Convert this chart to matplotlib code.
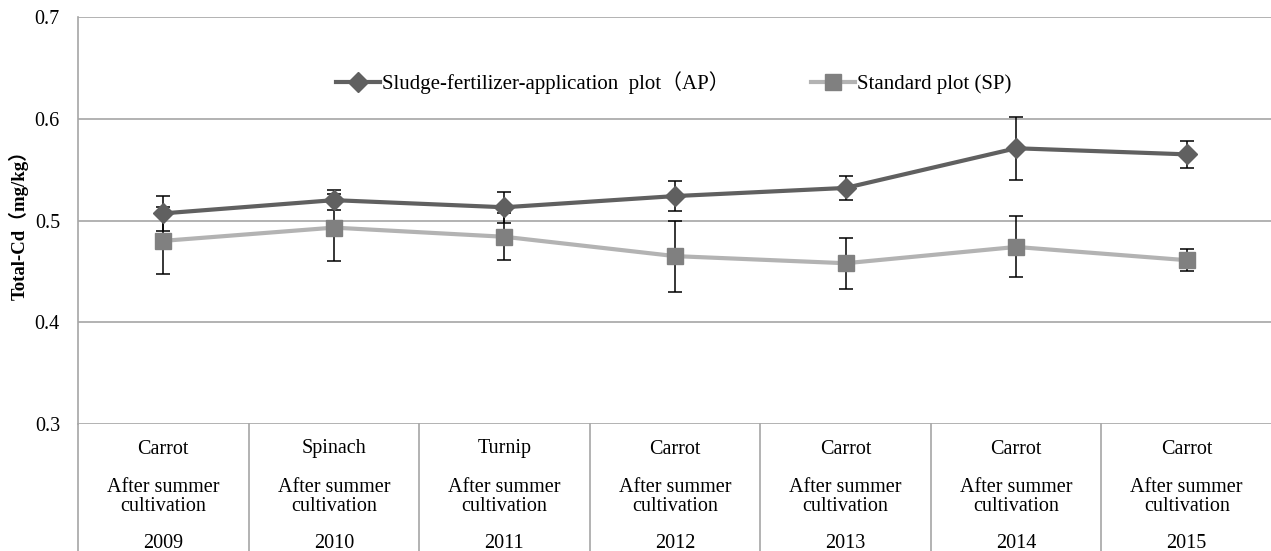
import matplotlib
matplotlib.use("Agg")
import matplotlib.pyplot as plt
import matplotlib.transforms as mtransforms
import numpy as np

crops = ["Carrot", "Spinach", "Turnip", "Carrot", "Carrot", "Carrot", "Carrot"]
season = ["After summer\ncultivation"] * 7
years = ["2009", "2010", "2011", "2012", "2013", "2014", "2015"]

ap_mean = [0.507, 0.520, 0.513, 0.524, 0.532, 0.571, 0.565]
ap_err = [0.017, 0.010, 0.015, 0.015, 0.012, 0.031, 0.013]
sp_mean = [0.480, 0.493, 0.484, 0.465, 0.458, 0.474, 0.461]
sp_err = [0.033, 0.033, 0.023, 0.035, 0.025, 0.030, 0.011]

yticks = [0.3, 0.4, 0.5, 0.6, 0.7]

fonts = ['Liberation Serif', 'Noto Sans CJK SC', 'DejaVu Sans']
plt.rcParams['font.family'] = fonts

W, H = 1271, 551
fig = plt.figure(figsize=(W / 100, H / 100), dpi=100)
left, right, top, bottom = 78, 1272, 17, 424
ax = fig.add_axes([left / W, 1 - bottom / H, (right - left) / W, (bottom - top) / H])

x = np.arange(len(years)) + 0.5

grid_c = '#a6a6a6'
for yv in yticks:
    ax.axhline(yv, color=grid_c, lw=1.2, zorder=0)

ax.errorbar(x, ap_mean, yerr=ap_err, fmt='none', ecolor='black', elinewidth=1.1,
            capsize=5, capthick=1.1, zorder=2)
ax.errorbar(x, sp_mean, yerr=sp_err, fmt='none', ecolor='black', elinewidth=1.1,
            capsize=5, capthick=1.1, zorder=2)

ax.plot(x, sp_mean, color='#b3b3b3', lw=3, marker='s', markersize=12,
        markerfacecolor='#808080', markeredgecolor='#808080', zorder=3,
        label='Standard plot (SP)')
ax.plot(x, ap_mean, color='#606060', lw=3, marker='D', markersize=10,
        markerfacecolor='#606060', markeredgecolor='#606060', zorder=4,
        label='Sludge-fertilizer-application  plot（AP）')

handles, labels = ax.get_legend_handles_labels()
ax.legend(handles[::-1], labels[::-1], loc='center', bbox_to_anchor=(0.499, 0.838),
          ncol=2, frameon=False, handlelength=2.1, handletextpad=0.1,
          columnspacing=3.9, prop={'family': fonts, 'size': 15})

ax.set_xlim(0, len(years))
ax.set_ylim(0.3, 0.7)
ax.set_yticks(yticks)
ax.set_yticklabels([f"{v:.1f}" for v in yticks], fontsize=14.5)
ax.tick_params(axis='y', length=0, pad=13)
ax.set_xticks([])
for s in ['top', 'right', 'bottom']:
    ax.spines[s].set_visible(False)
ax.spines['left'].set_color(grid_c)
ax.spines['left'].set_linewidth(1.2)

ax.set_ylabel('Total-Cd（mg/kg）', fontsize=13.5, fontweight='bold')
ax.yaxis.set_label_coords(-0.0415, 0.5)

# category table below
ybot = -(H - bottom) / (bottom - top)
trans_ax = mtransforms.blended_transform_factory(ax.transData, ax.transAxes)
for i in range(len(years) + 1):
    ax.plot([i, i], [0, ybot], color=grid_c, lw=1.2, transform=trans_ax, clip_on=False)

trans_fig = mtransforms.blended_transform_factory(ax.transData, fig.transFigure)
for xi, c, s, yr in zip(x, crops, season, years):
    ax.text(xi, 1 - 449 / H, c, transform=trans_fig, ha='center', va='center', fontsize=14.5)
    ax.text(xi, 1 - 497 / H, s, transform=trans_fig, ha='center', va='center', fontsize=14.5,
            linespacing=1.0)
    ax.text(xi, 1 - 543 / H, yr, transform=trans_fig, ha='center', va='center', fontsize=14.5)

fig.savefig('out.png', dpi=100)
